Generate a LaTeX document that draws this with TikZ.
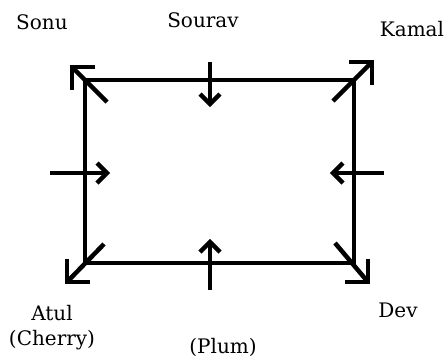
\documentclass[tikz,border=0pt]{standalone}
\usepackage{fontspec}
\setmainfont{DejaVu Serif}
\usetikzlibrary{calc}
\begin{document}
\begin{tikzpicture}[x=1pt,y=-1pt,
  lbl/.style={font=\fontsize{20}{24}\selectfont, text=black, inner sep=0pt, anchor=center},
  edge/.style={line width=4.5pt, line join=miter, line cap=butt}]
\useasboundingbox (0,0) rectangle (448,360);
% corners
\coordinate (tl) at (85,80);
\coordinate (tr) at (354,80);
\coordinate (br) at (354,263);
\coordinate (bl) at (85,263);
\draw[edge] (tl) -- (tr) -- (br) -- (bl) -- cycle;
% diagonal arrows
\coordinate (tlin) at (107,102);
\coordinate (tlout) at (72,67);
\coordinate (trin) at (333,101);
\coordinate (trout) at (372,62);
\coordinate (blin) at (104,244);
\coordinate (blout) at (67,282);
\coordinate (brin) at (335,243);
\coordinate (brout) at (368,282);
\draw[edge] (tlin) -- (tlout);
\draw[edge] ($(tlout)+(23,0)$) -- (tlout) -- ($(tlout)+(0,23)$);
\draw[edge] (trin) -- (trout);
\draw[edge] ($(trout)+(-23,0)$) -- (trout) -- ($(trout)+(0,23)$);
\draw[edge] (blin) -- (blout);
\draw[edge] ($(blout)+(23,0)$) -- (blout) -- ($(blout)+(0,-23)$);
\draw[edge] (brin) -- (brout);
\draw[edge] ($(brout)+(-23,0)$) -- (brout) -- ($(brout)+(0,-23)$);
% side arrows
\coordinate (lfrom) at (50,173);
\coordinate (lto) at (107,173);
\coordinate (rfrom) at (384,173);
\coordinate (rto) at (333,173);
\coordinate (tfrom) at (210,62);
\coordinate (tto) at (210,104);
\coordinate (bfrom) at (210,290);
\coordinate (bto) at (210,242);
\draw[edge] (lfrom) -- (lto);
\draw[edge] ($(lto)+(-10,-10)$) -- (lto) -- ($(lto)+(-10,10)$);
\draw[edge] (rfrom) -- (rto);
\draw[edge] ($(rto)+(10,-10)$) -- (rto) -- ($(rto)+(10,10)$);
\draw[edge] (tfrom) -- (tto);
\draw[edge] ($(tto)+(-10,-10)$) -- (tto) -- ($(tto)+(10,-10)$);
\draw[edge] (bfrom) -- (bto);
\draw[edge] ($(bto)+(-10,10)$) -- (bto) -- ($(bto)+(10,10)$);
% labels
\node[lbl] (sonu) at (42,22) {Sonu};
\node[lbl] (sourav) at (203,20) {Sourav};
\node[lbl] (kamal) at (412,29) {Kamal};
\node[lbl] (atul) at (52,313) {Atul};
\node[lbl] (cherry) at (52,340) {(Cherry)};
\node[lbl] (dev) at (398,310) {Dev};
\node[lbl] (plum) at (223,347) {(Plum)};
\end{tikzpicture}
\end{document}
